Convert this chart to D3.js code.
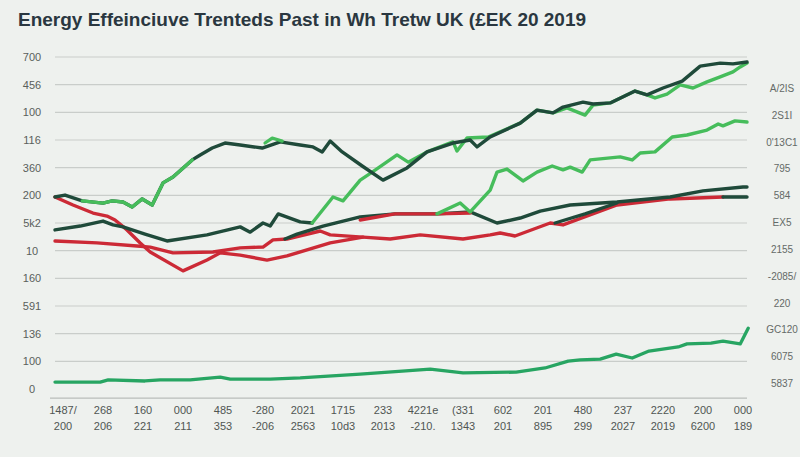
<!DOCTYPE html>
<html>
<head>
<meta charset="utf-8">
<script src="https://cdn.jsdelivr.net/npm/d3@7"></script>
<style>
  html, body { margin: 0; padding: 0; background: #eef1ee; }
  svg { display: block; }
</style>
</head>
<body>
<svg id="chart" width="800" height="457"></svg>
<script>
// ---------- DATA (x = label slot index, y = value on left axis) ----------
const title = "Energy Effeinciuve Trenteds Past in Wh Tretw UK (£EK 20 2019";

const leftLabels = ["0", "100", "136", "591", "160", "10", "5k2", "200", "360", "116", "100", "456", "700"]; // values 0..1200 step 100
const rightLabels = ["A/2IS", "2S1I", "0'13C1", "795", "584", "EX5", "2155", "-2085/", "220", "GC120", "6075", "5837"];
const xLabelsTop = ["1487/", "268", "160", "000", "485", "-280", "2021", "1715", "233", "4221e", "(331", "602", "201", "480", "237", "2220", "200", "000"];
const xLabelsBottom = ["200", "206", "221", "211", "353", "-206", "2563", "10d3", "2013", "-210.", "1343", "201", "895", "299", "2027", "2019", "6200", "189"];

const darkTop = [[-0.2,694],[0.05,701],[0.48,680],[1.0,672],[1.23,680],[1.5,676],[1.73,658],[1.98,687],[2.23,665],[2.5,745],[2.75,766],[3.23,828],[3.43,846],[3.73,871],[4.05,889],[4.43,882],[4.98,871],[5.43,893],[5.93,882],[6.25,875],[6.48,857],[6.68,896],[6.98,857],[7.48,806],[8.0,755],[8.6,799],[9.1,857],[9.75,889],[10.18,900],[10.35,875],[10.68,911],[11.43,961],[11.85,1008],[12.25,998],[12.5,1019],[13.0,1037],[13.25,1030],[13.68,1034],[14.3,1077],[14.6,1063],[15.0,1088],[15.48,1113],[15.93,1167],[16.43,1178],[16.75,1175],[17.1,1182]];
const greenEarly = [[0.48,680],[1.0,672],[1.23,680],[1.5,676],[1.73,658],[1.98,687],[2.23,665],[2.5,745],[2.75,766],[3.23,828]];
const greenHump = [[5.05,889],[5.23,907],[5.48,896]];
const greenUp = [[6.23,600],[6.75,694],[7.0,680],[7.43,755],[7.73,784],[8.35,846],[8.63,820],[9.1,857],[9.75,893],[9.85,860],[10.1,907],[10.63,911],[11.43,961],[11.85,1008],[12.25,998],[12.6,1016],[13.05,990],[13.25,1026],[13.68,1034],[14.3,1077],[14.6,1063],[14.8,1052],[15.1,1066],[15.43,1099],[15.75,1088],[16.1,1110],[16.43,1128],[16.75,1146],[16.93,1164],[17.1,1178]];
const greenMid = [[9.35,633],[9.93,672],[10.18,640],[10.68,719],[10.85,784],[11.1,795],[11.5,752],[11.85,784],[12.23,806],[12.5,792],[12.68,802],[12.98,784],[13.18,828],[13.93,839],[14.23,828],[14.43,853],[14.8,857],[15.23,911],[15.6,918],[16.1,936],[16.38,958],[16.5,951],[16.8,969],[17.1,965]];
const darkMid = [[-0.2,575],[0.43,589],[1.0,607],[1.25,593],[1.5,586],[2.05,560],[2.6,535],[3.6,557],[4.43,586],[4.68,567],[5.0,600],[5.18,589],[5.38,633],[5.93,604],[6.23,600]];
const darkB = [[5.55,542],[5.85,560],[6.5,589],[7.43,622],[8.3,633],[9.35,633],[10.18,640],[10.85,600],[11.43,618],[11.93,643],[12.68,665],[13.85,676],[15.18,694],[16.0,716],[17.0,730],[17.1,730]];
const redUpper = [[7.43,611],[8.3,633],[9.35,633],[10.18,636]];
const darkC = [[12.3,600],[13.05,633],[13.85,672]];
const darkEnd = [[16.5,694],[17.1,694]];
const red1 = [[-0.2,694],[0.25,665],[0.75,636],[1.1,625],[1.3,611],[1.6,575],[1.93,528],[2.18,495],[3.0,427],[3.6,466],[3.93,492],[4.43,484],[5.1,466],[5.6,481],[6.68,528],[7.5,549]];
const red2 = [[-0.2,535],[0.85,528],[1.85,517],[2.18,513],[2.75,492],[3.75,495],[4.43,510],[5.0,513],[5.25,539],[5.6,542],[6.43,571],[6.68,557],[7.5,549],[8.18,542],[8.93,557],[10.0,542],[10.68,557],[10.93,564],[11.3,553],[12.18,600],[12.5,593],[13.85,665],[15.18,687],[16.5,694]];
const greenBottom = [[-0.2,25],[0.93,25],[1.13,33],[2.05,29],[2.43,33],[3.18,33],[3.93,43],[4.18,36],[5.18,36],[5.93,40],[7.43,54],[9.18,72],[10.0,58],[11.33,61],[12.05,76],[12.63,101],[12.93,105],[13.43,108],[13.83,126],[14.23,112],[14.65,137],[15.38,152],[15.6,163],[16.2,166],[16.5,173],[16.93,163],[17.13,220]];

// ---------- STYLE ----------
const C = { dark: "#1f4a3a", light: "#46bd5b", red: "#cc2a36", teal: "#27a562", grid: "#c9cdca", text: "#5a5f5c" };

const svg = d3.select("#chart");
const x = d3.scaleLinear().domain([0, 17]).range([63, 743]);
const y = d3.scaleLinear().domain([0, 1200]).range([389, 57]);
const yRight = d3.scalePoint().domain(rightLabels).range([88, 383]);
const plotLeft = 55, plotRight = 747;

// gridlines
svg.append("g").selectAll("line")
  .data(d3.range(100, 1201, 100))
  .join("line")
  .attr("x1", plotLeft).attr("x2", plotRight)
  .attr("y1", d => y(d)).attr("y2", d => y(d))
  .attr("stroke", C.grid).attr("stroke-width", 1.2);

// baseline
svg.append("line")
  .attr("x1", 50).attr("x2", plotRight)
  .attr("y1", y(-33)).attr("y2", y(-33))
  .attr("stroke", "#b9bdba").attr("stroke-width", 1.2);

// left axis labels
svg.append("g").selectAll("text")
  .data(leftLabels)
  .join("text")
  .attr("x", 32).attr("y", (d, i) => y(i * 100) + 4)
  .attr("text-anchor", "middle")
  .attr("font-family", "Liberation Sans, Arial, sans-serif")
  .attr("font-size", 11).attr("fill", C.text)
  .text(d => d);

// right axis labels
svg.append("g").selectAll("text")
  .data(rightLabels)
  .join("text")
  .attr("x", 782).attr("y", d => yRight(d) + 4)
  .attr("text-anchor", "middle")
  .attr("font-family", "Liberation Sans, Arial, sans-serif")
  .attr("font-size", 10).attr("fill", "#646a67")
  .text(d => d);

// bottom labels (two rows)
const xg = svg.append("g")
  .attr("font-family", "Liberation Sans, Arial, sans-serif")
  .attr("font-size", 11).attr("fill", "#505653").attr("text-anchor", "middle");
xg.selectAll("text.top").data(xLabelsTop).join("text")
  .attr("class", "top").attr("x", (d, i) => x(i)).attr("y", 414).text(d => d);
xg.selectAll("text.bot").data(xLabelsBottom).join("text")
  .attr("class", "bot").attr("x", (d, i) => x(i)).attr("y", 430).text(d => d);

// lines
const line = d3.line().x(d => x(d[0])).y(d => y(d[1]));
const layers = [
  [greenBottom, C.teal, 3.3],
  [red2, C.red, 3.4],
  [red1, C.red, 3.4],
  [darkMid, C.dark, 3.4],
  [darkB, C.dark, 3.4],
  [darkC, C.dark, 3.2],
  [redUpper, C.red, 3.4],
  [darkEnd, C.dark, 3.4],
  [greenMid, C.light, 3.4],
  [greenUp, C.light, 3.4],
  [darkTop, C.dark, 3.4],
  [greenEarly, C.light, 3.4],
  [greenHump, C.light, 3.2]
];
svg.append("g").selectAll("path")
  .data(layers)
  .join("path")
  .attr("d", d => line(d[0]))
  .attr("fill", "none")
  .attr("stroke", d => d[1])
  .attr("stroke-width", d => d[2])
  .attr("stroke-linejoin", "round")
  .attr("stroke-linecap", "round");

// title
const t = svg.append("text")
  .attr("x", 18).attr("y", 26)
  .attr("font-family", "Liberation Sans, Arial, sans-serif")
  .attr("font-weight", "bold")
  .attr("font-size", 19)
  .attr("fill", "#2a3740")
  .text(title);
const w = t.node().getComputedTextLength();
if (w > 572) t.attr("font-size", 19 * 572 / w);
</script>
</body>
</html>
